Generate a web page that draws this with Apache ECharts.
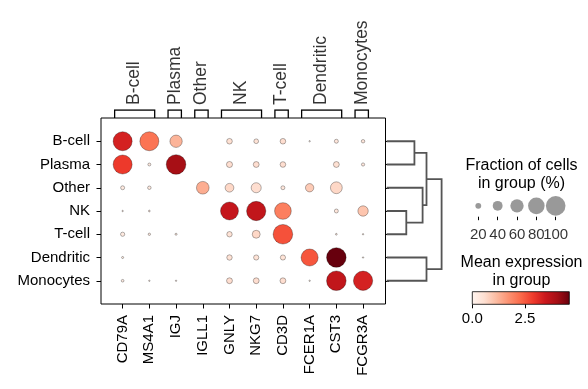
<!DOCTYPE html>
<html><head><meta charset="utf-8">
<script src="https://cdn.jsdelivr.net/npm/echarts@6/dist/echarts.min.js"></script>
<style>html,body{margin:0;padding:0;background:#fff}#c{width:588px;height:389px}</style>
</head><body><div id="c"></div>
<script>
// ---------------- data ----------------
const genes = ['CD79A','MS4A1','IGJ','IGLL1','GNLY','NKG7','CD3D','FCER1A','CST3','FCGR3A'];
const groups = ['B-cell','Plasma','Other','NK','T-cell','Dendritic','Monocytes'];
// gene-group brackets above the plot
const geneGroupLabels = ['B-cell','Plasma','Other','NK','T-cell','Dendritic','Monocytes'];
const geneGroupStart = [0,2,3,4,6,7,9];
const geneGroupEnd   = [1,2,3,5,6,8,9];
// mean expression in group (rows = groups, cols = genes)
const meanExpr = [
  [3.3, 2.15, 1.25, 0,    0.55, 0.5,  0.6, 0.2,  0.4, 0.4],
  [2.9, 0.3,  4.0,  0,    0.6,  0.6,  0.6, 0,    0.55,0.4],
  [0.3, 0.3,  0,    1.35, 0.7,  0.6,  0.4, 0.9,  0.7, 0],
  [0.3, 0.3,  0,    0,    3.55, 3.6,  2.0, 0,    0.4, 1.0],
  [0.3, 0.3,  0.3,  0,    0.5,  0.7,  2.6, 0,    0.3, 0.4],
  [0.3, 0,    0,    0,    0.5,  0.5,  0.5, 2.55, 4.6, 0.3],
  [0.3, 0.3,  0.3,  0,    0.6,  0.6,  0.6, 0.3,  3.6, 3.3]
];
// fraction of cells in group expressing gene
const fracCells = [
  [0.96, 0.96, 0.54, 0,    0.19, 0.15, 0.19, 0.03, 0.12, 0.10],
  [0.96, 0.08, 1.0,  0,    0.21, 0.20, 0.19, 0,    0.20, 0.09],
  [0.12, 0.10, 0,    0.56, 0.34, 0.41, 0.12, 0.32, 0.51, 0],
  [0.03, 0.04, 0,    0,    0.89, 0.98, 0.81, 0,    0.12, 0.43],
  [0.13, 0.06, 0.05, 0,    0.18, 0.30, 1.0,  0,    0.04, 0.03],
  [0.05, 0,    0,    0,    0.18, 0.17, 0.17, 0.83, 1.0,  0.03],
  [0.07, 0.03, 0.03, 0,    0.20, 0.20, 0.20, 0.03, 1.0,  0.98]
];
// dendrogram merges: [childA, childB, height]; leaves 0..6, new clusters numbered 7+
const dendroMerges = [
  [0, 1, 0.505],
  [3, 4, 0.357],
  [2, 8, 0.654],
  [7, 9, 0.725],
  [5, 6, 0.725],
  [10, 11, 1.0]
];
// size legend values (%)
const sizeLegendValues = [20, 40, 60, 80, 100];
// colorbar range and ticks
const colorMin = 0, colorMax = 4.6;
const colorTicks = [0, 2.5];

// ---------------- styling ----------------
const FONT = "'Liberation Sans', Arial, Helvetica, sans-serif";
const REDS = ['#fff5f0','#fee0d2','#fcbba1','#fc9272','#fb6a4a','#ef3b2c','#cb181d','#a50f15','#67000d'];
const MAXD = 19.6;
const dotSize = f => MAXD * Math.pow(f, 0.75);
const XMIN = -0.81, XMAX = 9.84;

// main dots
const dots = [];
groups.forEach((g, r) => genes.forEach((gn, c) => {
  if (fracCells[r][c] > 0) dots.push([c, r, meanExpr[r][c], fracCells[r][c]]);
}));

// dendrogram polylines
const nodePos = groups.map((_, i) => i);
const nodeH = groups.map(() => 0);
const dendroLines = [];
dendroMerges.forEach(([a, b, h]) => {
  dendroLines.push({coords: [[nodeH[a], nodePos[a]], [h, nodePos[a]], [h, nodePos[b]], [nodeH[b], nodePos[b]]]});
  nodePos.push((nodePos[a] + nodePos[b]) / 2);
  nodeH.push(h);
});

// brackets
const bracketLines = geneGroupStart.map((s, i) => {
  const e = geneGroupEnd[i];
  return {coords: [[s - 0.3, 0], [s - 0.3, 1], [e + 0.2, 1], [e + 0.2, 0]]};
});
const bracketLabels = geneGroupStart.map((s, i) => ({
  name: geneGroupLabels[i], value: [(s + geneGroupEnd[i]) / 2 - 0.05, 1]
}));

const idx = n => Array.from({length: n}, (_, i) => i);
const noLine = {show: false, onZero: false};
const tick = (vals, len) => ({show: true, length: len, customValues: vals, lineStyle: {color: '#000', width: 1}});

const chart = echarts.init(document.getElementById('c'), null, {renderer: 'canvas'});
chart.setOption({
  animation: false,
  textStyle: {fontFamily: FONT},
  grid: [
    {left: 101, top: 118, width: 284.5, height: 186, show: true, borderColor: '#000', borderWidth: 1, containLabel: false},
    {left: 386.7, top: 118, width: 56, height: 186},
    {left: 101, top: 110, width: 284.5, height: 8},
    {left: 478.3, top: 195, width: 77.4, height: 21.7},
    {left: 472.3, top: 291.7, width: 97, height: 12.6}
  ],
  xAxis: [
    {gridIndex: 0, type: 'value', min: XMIN, max: XMAX, splitLine: {show: false}, axisLine: noLine,
     axisTick: tick(idx(genes.length), 4.5),
     axisLabel: {show: true, customValues: idx(genes.length), rotate: 90, margin: 11, fontSize: 15, color: '#000', fontFamily: FONT,
       hideOverlap: false, formatter: v => genes[Math.round(v)]}},
    {gridIndex: 1, type: 'value', min: 0, max: 1.02, show: false, axisLine: noLine},
    {gridIndex: 2, type: 'value', min: XMIN, max: XMAX, show: false, axisLine: noLine},
    {gridIndex: 3, type: 'value', min: 20, max: 100, splitLine: {show: false}, axisLine: noLine,
     axisTick: tick(sizeLegendValues, 3.5), axisLabel: {show: false}},
    {gridIndex: 4, type: 'value', min: colorMin, max: colorMax, splitLine: {show: false}, axisLine: noLine,
     axisTick: tick(colorTicks, 4),
     axisLabel: {show: true, customValues: colorTicks, margin: 7, fontSize: 15, color: '#000', fontFamily: FONT,
       hideOverlap: false, formatter: v => v.toFixed(1)}}
  ],
  yAxis: [
    {gridIndex: 0, type: 'value', min: -1, max: 7, inverse: true, splitLine: {show: false}, axisLine: noLine,
     axisTick: tick(idx(groups.length), 4.5),
     axisLabel: {show: true, customValues: idx(groups.length), margin: 11, fontSize: 15, color: '#000', fontFamily: FONT,
       hideOverlap: false, formatter: v => groups[Math.round(v)]}},
    {gridIndex: 0, type: 'value', position: 'right', min: -1, max: 7, inverse: true, splitLine: {show: false}, axisLine: noLine,
     axisTick: tick(idx(groups.length), 3.5), axisLabel: {show: false}},
    {gridIndex: 1, type: 'value', min: -1, max: 7, inverse: true, show: false, axisLine: noLine},
    {gridIndex: 2, type: 'value', min: 0, max: 1, show: false, axisLine: noLine},
    {gridIndex: 3, type: 'value', min: -1, max: 1, show: false, axisLine: noLine},
    {gridIndex: 4, type: 'value', min: 0, max: 1, show: false, axisLine: noLine}
  ],
  visualMap: {
    type: 'continuous', show: false, min: colorMin, max: colorMax, dimension: 2, seriesIndex: 0,
    inRange: {color: REDS}
  },
  series: [
    {type: 'scatter', xAxisIndex: 0, yAxisIndex: 0, data: dots, clip: false,
     symbolSize: v => dotSize(v[3]),
     itemStyle: {borderColor: 'rgba(0,0,0,0.5)', borderWidth: 0.6, opacity: 1}},
    {type: 'lines', coordinateSystem: 'cartesian2d', xAxisIndex: 1, yAxisIndex: 2, polyline: true, data: dendroLines,
     lineStyle: {color: '#555', width: 1.8, opacity: 1}, silent: true},
    {type: 'lines', coordinateSystem: 'cartesian2d', xAxisIndex: 2, yAxisIndex: 3, polyline: true, data: bracketLines,
     lineStyle: {color: '#000', width: 1.3, opacity: 1}, silent: true},
    {type: 'scatter', xAxisIndex: 2, yAxisIndex: 3, data: bracketLabels, symbolSize: 0, clip: false, silent: true,
     label: {show: true, formatter: p => p.name, position: [0, -5], rotate: 90, align: 'left', verticalAlign: 'middle',
       fontSize: 17.5, color: '#000', fontFamily: FONT}},
    {type: 'scatter', xAxisIndex: 3, yAxisIndex: 4, data: sizeLegendValues.map(v => [v, 0]), clip: false, silent: true,
     symbolSize: v => dotSize(v[0] / 100), itemStyle: {color: '#808080'}},
    {type: 'scatter', xAxisIndex: 3, yAxisIndex: 4, data: sizeLegendValues.map(v => [v, -1]), clip: false, silent: true,
     symbolSize: 0, labelLayout: {hideOverlap: false},
     label: {show: true, formatter: p => String(p.value[0]), position: [0, 18], align: 'center', verticalAlign: 'middle',
       fontSize: 15, color: '#000', fontFamily: FONT}},
    {type: 'custom', xAxisIndex: 4, yAxisIndex: 5, data: [[colorMin, colorMax]], clip: false, silent: true,
     renderItem: (params, api) => {
       const p0 = api.coord([api.value(0), 0]);
       const p1 = api.coord([api.value(1), 1]);
       return {type: 'rect', shape: {x: p0[0], y: p1[1], width: p1[0] - p0[0], height: p0[1] - p1[1]},
         style: {fill: new echarts.graphic.LinearGradient(0, 0, 1, 0,
           REDS.map((c, i) => ({offset: i / (REDS.length - 1), color: c}))), stroke: '#000', lineWidth: 0.8}};
     }}
  ],
  graphic: [
    {type: 'text', x: 521.5, y: 157, style: {text: 'Fraction of cells\nin group (%)', textAlign: 'center', fill: '#000',
      font: '16px ' + FONT, lineHeight: 18}},
    {type: 'text', x: 521.5, y: 254, style: {text: 'Mean expression\nin group', textAlign: 'center', fill: '#000',
      font: '16px ' + FONT, lineHeight: 18}}
  ]
});
</script>
</body></html>
